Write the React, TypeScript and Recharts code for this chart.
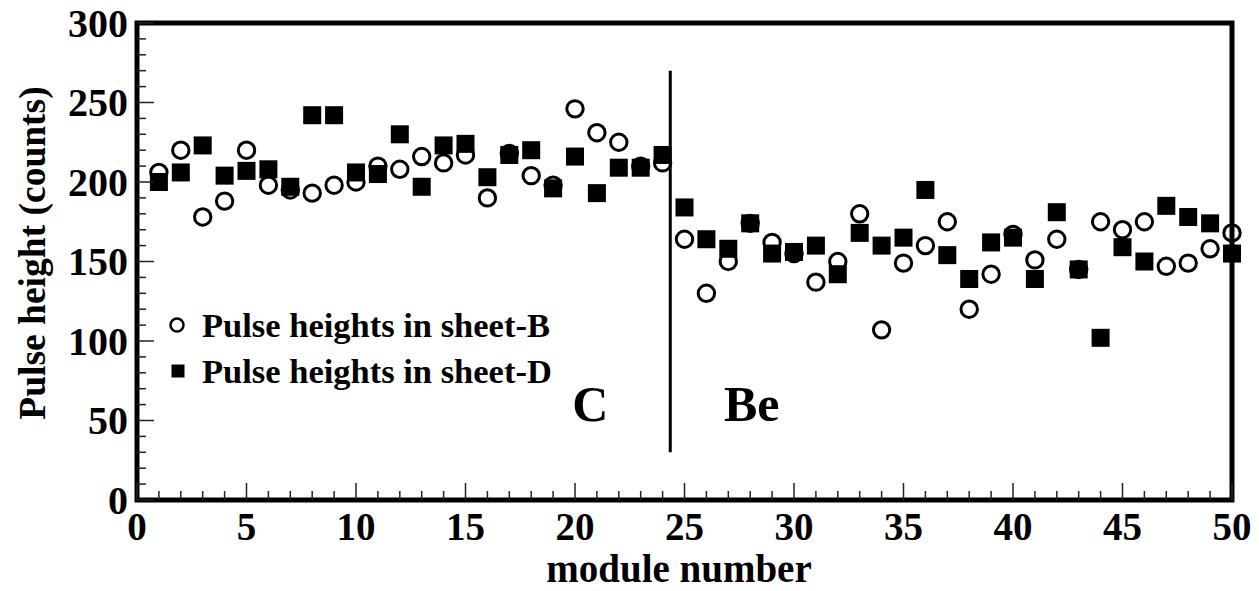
import { ScatterChart, Scatter, XAxis, YAxis, ReferenceArea, ReferenceLine, ReferenceDot, Legend, Label } from 'recharts'

const FONT = "'Liberation Serif', 'Times New Roman', serif"

const modules = [
  1, 2, 3, 4, 5, 6, 7, 8, 9, 10, 11, 12, 13, 14, 15, 16, 17, 18, 19, 20, 21, 22, 23, 24, 25,
  26, 27, 28, 29, 30, 31, 32, 33, 34, 35, 36, 37, 38, 39, 40, 41, 42, 43, 44, 45, 46, 47, 48, 49, 50,
]

// sheet-B (open circles)
const sheetB = [
  206, 220, 178, 188, 220, 198, 195, 193, 198, 200, 210, 208, 216, 212, 217, 190, 218, 204, 198, 246,
  231, 225, 210, 212, 164, 130, 150, 174, 162, 155, 137, 150, 180, 107, 149, 160, 175, 120, 142, 167,
  151, 164, 145, 175, 170, 175, 147, 149, 158, 168,
]

// sheet-D (filled squares)
const sheetD = [
  200, 206, 223, 204, 207, 208, 197, 242, 242, 206, 205, 230, 197, 223, 224, 203, 217, 220, 196, 216,
  193, 209, 209, 217, 184, 164, 158, 174, 155, 156, 160, 142, 168, 160, 165, 195, 154, 139, 162, 165,
  139, 181, 145, 102, 159, 150, 185, 178, 174, 155,
]

const xTicks = [0, ...modules]
const yTicks = [0, 10, 20, 30, 40, 50, 60, 70, 80, 90, 100, 110, 120, 130, 140, 150, 160, 170, 180, 190,
  200, 210, 220, 230, 240, 250, 260, 270, 280, 290, 300]

const legendItems = [
  { name: 'Pulse heights in sheet-B', kind: 'circle' },
  { name: 'Pulse heights in sheet-D', kind: 'square' },
]

const regions = [
  { text: 'C', x: 20.7, y: 50 },
  { text: 'Be', x: 28.07, y: 50 },
]
const divider = { x: 24.35, from: 30, to: 270 }

const dataB = modules.map((m, i) => ({ x: m, y: sheetB[i] }))
const dataD = modules.map((m, i) => ({ x: m, y: sheetD[i] }))

function XTick({ x, y, payload }: any) {
  const v = payload.value
  const major = v % 5 === 0
  return (
    <g>
      <line x1={x} y1={y} x2={x} y2={y - (major ? 17 : 9)} stroke="#222" strokeWidth={1.5} />
      {major && (
        <text x={x} y={y + 40} textAnchor="middle" fontFamily={FONT} fontWeight="bold" fontSize={39} fill="#000">
          {v}
        </text>
      )}
    </g>
  )
}

function YTick({ x, y, payload }: any) {
  const v = payload.value
  const major = v % 50 === 0
  return (
    <g>
      <line x1={x} y1={y} x2={x + (major ? 17 : 9)} y2={y} stroke="#222" strokeWidth={1.5} />
      {major && (
        <text x={x - 9} y={y + 13.5} textAnchor="end" fontFamily={FONT} fontWeight="bold" fontSize={40} fill="#000">
          {v}
        </text>
      )}
    </g>
  )
}

const circleShape = (p: any) => (
  <circle cx={p.cx} cy={p.cy} r={8.2} fill="none" stroke="#000" strokeWidth={3} />
)
const squareShape = (p: any) => (
  <rect x={p.cx - 9} y={p.cy - 9} width={18} height={18} fill="#000" />
)

function renderLegend() {
  return (
    <div style={{ fontFamily: FONT, fontWeight: 'bold', fontSize: 34.5 }}>
      {legendItems.map(item => (
        <div key={item.name} style={{ display: 'flex', alignItems: 'center', height: 46, lineHeight: '46px' }}>
          <svg width={34} height={20}>
            {item.kind === 'circle'
              ? <circle cx={17} cy={10} r={6.5} fill="none" stroke="#000" strokeWidth={2.5} />
              : <rect x={11.5} y={3.5} width={13} height={13} fill="#000" />}
          </svg>
          <span style={{ marginLeft: 8, whiteSpace: 'nowrap' }}>{item.name}</span>
        </div>
      ))}
    </div>
  )
}

export default function App() {
  return (
    <div style={{ position: 'absolute', left: 0, top: 0, background: '#fff' }}>
      <ScatterChart width={1259} height={591} margin={{ top: 23, right: 27, left: 0, bottom: 0 }}>
        <XAxis
          type="number"
          dataKey="x"
          domain={[0, 50]}
          ticks={xTicks}
          interval={0}
          height={91}
          axisLine={false}
          tickLine={false}
          tickSize={0}
          tickMargin={0}
          tick={<XTick />}
        >
          <Label
            content={() => (
              <text x={679} y={582} textAnchor="middle" fontFamily={FONT} fontWeight="bold" fontSize={39} fill="#000">
                module number
              </text>
            )}
          />
        </XAxis>
        <YAxis
          type="number"
          dataKey="y"
          domain={[0, 300]}
          ticks={yTicks}
          interval={0}
          width={137}
          axisLine={false}
          tickLine={false}
          tickSize={0}
          tickMargin={0}
          tick={<YTick />}
        >
          <Label
            content={() => (
              <text
                x={45}
                y={253}
                transform="rotate(-90, 45, 253)"
                textAnchor="middle"
                fontFamily={FONT}
                fontWeight="bold"
                fontSize={37.5}
                fill="#000"
              >
                Pulse height (counts)
              </text>
            )}
          />
        </YAxis>
        <Legend
          layout="vertical"
          align="center"
          verticalAlign="middle"
          wrapperStyle={{ left: 160, top: 302, width: 440 }}
          content={renderLegend}
        />
        <ReferenceLine
          segment={[{ x: divider.x, y: divider.from }, { x: divider.x, y: divider.to }]}
          stroke="#000"
          strokeWidth={3}
        />
        {regions.map(r => (
          <ReferenceDot
            key={r.text}
            x={r.x}
            y={r.y}
            r={0}
            shape={(p: any) => (
              <text x={p.cx} y={p.cy} textAnchor="middle" fontFamily={FONT} fontWeight="bold" fontSize={50} fill="#000">
                {r.text}
              </text>
            )}
          />
        ))}
        <Scatter name="Pulse heights in sheet-D" data={dataD} shape={squareShape} isAnimationActive={false} />
        <Scatter name="Pulse heights in sheet-B" data={dataB} shape={circleShape} isAnimationActive={false} />
        <ReferenceArea x1={0} x2={50} y1={0} y2={300} fill="none" fillOpacity={0} stroke="#000" strokeWidth={5} />
      </ScatterChart>
    </div>
  )
}
